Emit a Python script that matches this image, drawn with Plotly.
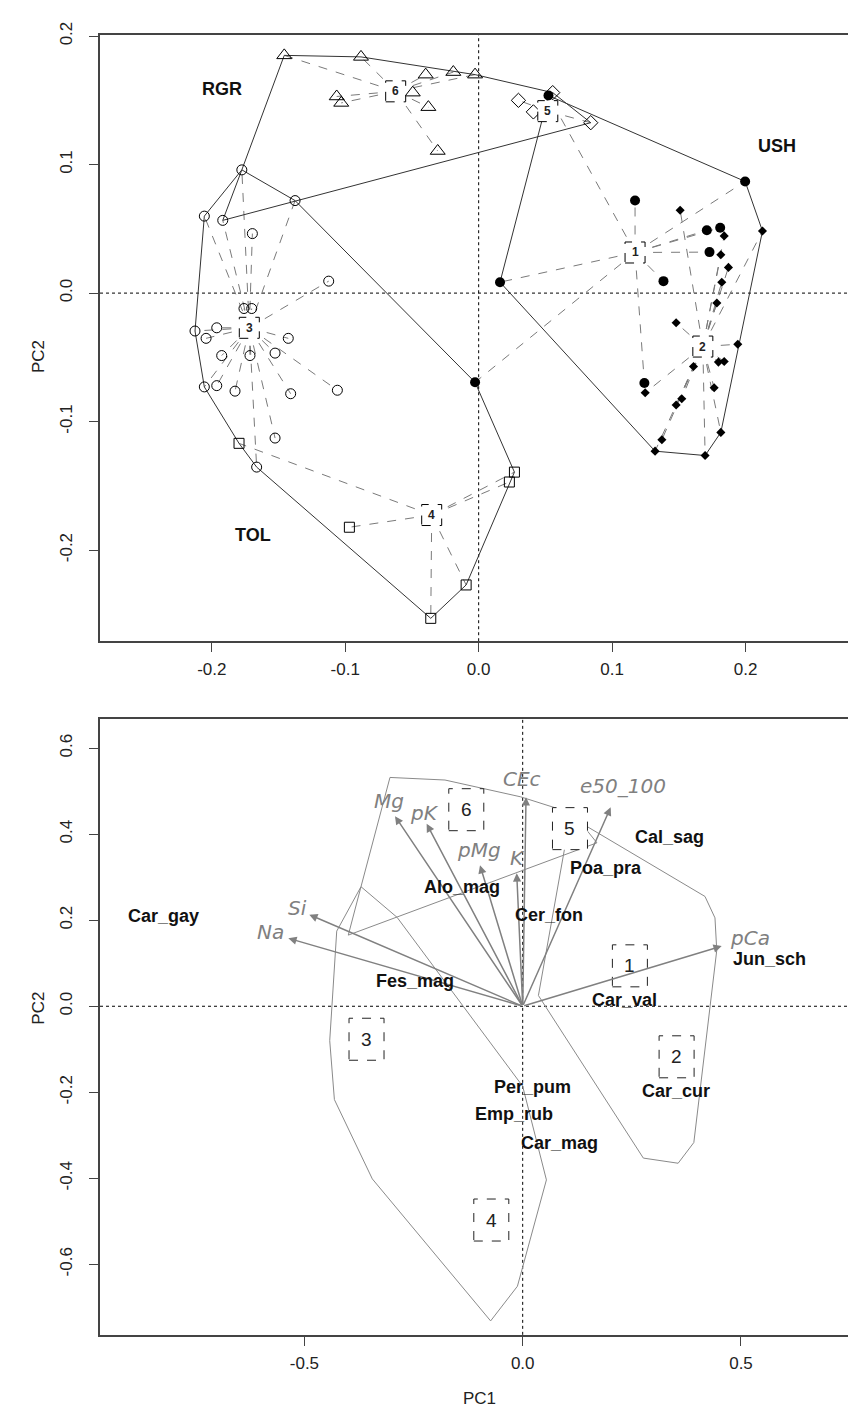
import plotly.graph_objects as go

# ---------------- TOP PANEL DATA (sample scores) ----------------
g1_x = [0.0523, 0.1172, 0.1997, 0.171, 0.181, 0.173, 0.1385, 0.016, -0.0027, 0.1242]
g1_y = [0.1537, 0.072, 0.0869, 0.0489, 0.0509, 0.0319, 0.0093, 0.0085, -0.0694, -0.0699]
g2_x = [0.151, 0.184, 0.2127, 0.1815, 0.1872, 0.1822, 0.1785, 0.148, 0.1942, 0.1797,
        0.184, 0.161, 0.1765, 0.1248, 0.1522, 0.148, 0.1373, 0.1322, 0.1697, 0.1815]
g2_y = [0.0645, 0.0445, 0.0483, 0.0298, 0.020, 0.0085, -0.0077, -0.0231, -0.0398, -0.0537,
        -0.0532, -0.0571, -0.0737, -0.0776, -0.0822, -0.0871, -0.1141, -0.123, -0.1264, -0.1084]
g3_x = [-0.1775, -0.1376, -0.2056, -0.1918, -0.1696, -0.1124, -0.1759, -0.1701, -0.2126, -0.1963, -0.2043,
        -0.1926, -0.1714, -0.1526, -0.1427, -0.2056, -0.1963, -0.1826, -0.1409, -0.1059, -0.1526, -0.1664]
g3_y = [0.0959, 0.072, 0.0599, 0.0566, 0.0463, 0.0093, -0.012, -0.012, -0.0295, -0.027, -0.0352,
        -0.0486, -0.0486, -0.0467, -0.0352, -0.073, -0.072, -0.0763, -0.0783, -0.0756, -0.1128, -0.1354]
g4_x = [-0.1796, -0.0969, 0.0268, 0.023, -0.0094, -0.0359]
g4_y = [-0.1169, -0.1822, -0.1393, -0.147, -0.2271, -0.2531]
g5_x = [0.0298, 0.041, 0.0555, 0.084]
g5_y = [0.150, 0.141, 0.156, 0.1326]
g6_x = [-0.1457, -0.0882, -0.0397, -0.019, -0.0027, -0.0494, -0.1064, -0.103, -0.0377, -0.0307]
g6_y = [0.185, 0.1838, 0.170, 0.172, 0.170, 0.156, 0.153, 0.148, 0.1447, 0.1106]

group_ids = ["1", "2", "3", "4", "5", "6"]
center_x = [0.1172, 0.168, -0.1719, -0.0352, 0.0518, -0.0622]
center_y = [0.0316, -0.0416, -0.027, -0.1727, 0.1416, 0.157]

hull_rgr_x = [-0.1457, -0.0882, -0.0027, 0.0555, 0.084, -0.1918, -0.1775, -0.1457]
hull_rgr_y = [0.185, 0.1838, 0.170, 0.156, 0.1326, 0.0566, 0.0959, 0.185]
hull_ush_x = [0.0523, 0.1997, 0.2127, 0.1815, 0.1697, 0.1322, 0.016, 0.0523]
hull_ush_y = [0.1537, 0.0869, 0.0483, -0.1084, -0.1264, -0.123, 0.0085, 0.1537]
hull_tol_x = [-0.1775, -0.1376, -0.0027, 0.0268, -0.0094, -0.0359, -0.1664, -0.1796, -0.2056, -0.2126, -0.2056, -0.1775]
hull_tol_y = [0.0959, 0.072, -0.0694, -0.1393, -0.2271, -0.2531, -0.1354, -0.1169, -0.073, -0.0295, 0.0599, 0.0959]

site_labels = ["RGR", "USH", "TOL"]
site_x = [-0.1926, 0.2239, -0.1693]
site_y = [0.1588, 0.1141, -0.1881]

top_xticks = [-0.2, -0.1, 0.0, 0.1, 0.2]
top_xticktext = ["-0.2", "-0.1", "0.0", "0.1", "0.2"]
top_yticks = [-0.2, -0.1, 0.0, 0.1, 0.2]
top_yticktext = ["-0.2", "-0.1", "0.0", "0.1", "0.2"]

# ---------------- BOTTOM PANEL DATA (biplot) ----------------
env_names = ["Mg", "pK", "pMg", "K", "CEc", "e50_100", "pCa", "Si", "Na"]
env_x = [-0.2925, -0.22, -0.0978, -0.0137, 0.0076, 0.2015, 0.4558, -0.4888, -0.5368]
env_y = [0.442, 0.4244, 0.328, 0.309, 0.486, 0.4627, 0.14, 0.213, 0.158]
env_lab_x = [-0.3055, -0.2238, -0.1001, -0.0124, -0.0023, 0.2305, 0.5206, -0.5163, -0.5788]
env_lab_y = [0.478, 0.449, 0.363, 0.344, 0.5295, 0.5127, 0.158, 0.2286, 0.1733]

spp_names = ["Car_gay", "Alo_mag", "Cal_sag", "Poa_pra", "Cer_fon", "Jun_sch",
             "Fes_mag", "Car_val", "Per_pum", "Emp_rub", "Car_mag", "Car_cur"]
spp_x = [-0.823, -0.1383, 0.3358, 0.190, 0.0602, 0.566, -0.2474, 0.2334, 0.0215, -0.0192, 0.085, 0.351]
spp_y = [0.209, 0.278, 0.3936, 0.322, 0.2115, 0.109, 0.0594, 0.0134, -0.1878, -0.25, -0.318, -0.198]

bcenter_x = [0.2455, 0.3525, -0.3577, -0.0719, 0.1083, -0.1292]
bcenter_y = [0.094, -0.1175, -0.0767, -0.497, 0.413, 0.457]

poly_rgr_x = [-0.304, -0.178, -0.005, 0.116, 0.17, -0.3995, -0.3704, -0.304]
poly_rgr_y = [0.532, 0.526, 0.487, 0.448, 0.38, 0.1654, 0.278, 0.532]
poly_ush_x = [0.109, 0.4175, 0.4404, 0.4445, 0.392, 0.356, 0.2763, 0.036, 0.109]
poly_ush_y = [0.441, 0.2553, 0.2055, 0.13, -0.3168, -0.365, -0.353, 0.025, 0.441]
poly_tol_x = [-0.3704, -0.2876, 0.0, 0.0543, -0.0121, -0.0735, -0.3445, -0.3754, -0.4313, -0.442, -0.426, -0.3704]
poly_tol_y = [0.278, 0.2066, -0.186, -0.4037, -0.651, -0.7316, -0.4014, -0.3355, -0.217, -0.08, 0.1747, 0.278]

bot_xticks = [-0.5, 0.0, 0.5]
bot_xticktext = ["-0.5", "0.0", "0.5"]
bot_yticks = [-0.6, -0.4, -0.2, 0.0, 0.2, 0.4, 0.6]
bot_yticktext = ["-0.6", "-0.4", "-0.2", "0.0", "0.2", "0.4", "0.6"]

# ---------------- FIGURE ----------------
W, H = 848, 1428
fig = go.Figure()

AX = "#444444"
TICKFONT = dict(family="Liberation Sans, Arial", size=17, color="#222222")
SPIDER = "#7a7a7a"

groups = [
    (g1_x, g1_y, dict(symbol="circle", size=10, color="black")),
    (g2_x, g2_y, dict(symbol="diamond", size=7, color="black")),
    (g3_x, g3_y, dict(symbol="circle-open", size=10, color="black", line=dict(width=1))),
    (g4_x, g4_y, dict(symbol="square-open", size=10, color="black", line=dict(width=1))),
    (g5_x, g5_y, dict(symbol="diamond-open", size=11, color="black", line=dict(width=1))),
    (g6_x, g6_y, dict(symbol="triangle-up-open", size=13, color="black", line=dict(width=1))),
]

# spiders
for i, (gx, gy, _) in enumerate(groups):
    sx, sy = [], []
    for px, py in zip(gx, gy):
        sx += [center_x[i], px, None]
        sy += [center_y[i], py, None]
    fig.add_trace(go.Scatter(x=sx, y=sy, mode="lines", xaxis="x", yaxis="y",
                             line=dict(color=SPIDER, width=1, dash="dash"),
                             hoverinfo="skip", showlegend=False))

# hulls
for hx, hy in [(hull_rgr_x, hull_rgr_y), (hull_ush_x, hull_ush_y), (hull_tol_x, hull_tol_y)]:
    fig.add_trace(go.Scatter(x=hx, y=hy, mode="lines", xaxis="x", yaxis="y",
                             line=dict(color="#333333", width=1), hoverinfo="skip", showlegend=False))

# points
for gx, gy, mk in groups:
    fig.add_trace(go.Scatter(x=gx, y=gy, mode="markers", xaxis="x", yaxis="y",
                             marker=mk, hoverinfo="skip", showlegend=False))

# bottom polygons
for px_, py_ in [(poly_rgr_x, poly_rgr_y), (poly_ush_x, poly_ush_y), (poly_tol_x, poly_tol_y)]:
    fig.add_trace(go.Scatter(x=px_, y=py_, mode="lines", xaxis="x2", yaxis="y2",
                             line=dict(color="#8a8a8a", width=1), hoverinfo="skip", showlegend=False))

shapes = []
annotations = []

# dotted zero lines
for xr, yr in [("x", "y"), ("x2", "y2")]:
    shapes.append(dict(type="line", xref=xr, yref=yr + " domain", x0=0, x1=0, y0=0, y1=1,
                       line=dict(color="black", width=1, dash="dot"), layer="below"))
    shapes.append(dict(type="line", xref=xr + " domain", yref=yr, x0=0, x1=1, y0=0, y1=0,
                       line=dict(color="black", width=1, dash="dot"), layer="below"))

# top centroid boxes
for gid, cx, cy in zip(group_ids, center_x, center_y):
    shapes.append(dict(type="rect", xref="x", yref="y", xsizemode="pixel", ysizemode="pixel",
                       xanchor=cx, yanchor=cy, x0=-10, x1=10, y0=-10.5, y1=10.5,
                       line=dict(color="black", width=1, dash="dash"), fillcolor="white", layer="above"))
    annotations.append(dict(x=cx, y=cy, xref="x", yref="y", text="<b>%s</b>" % gid, showarrow=False,
                            font=dict(family="Liberation Sans, Arial", size=12, color="#222")))

# site labels
for t, sx, sy in zip(site_labels, site_x, site_y):
    annotations.append(dict(x=sx, y=sy, xref="x", yref="y", text="<b>%s</b>" % t, showarrow=False,
                            font=dict(family="Liberation Sans, Arial", size=18, color="#111")))

# bottom boxes
for gid, cx, cy in zip(group_ids, bcenter_x, bcenter_y):
    shapes.append(dict(type="rect", xref="x2", yref="y2", xsizemode="pixel", ysizemode="pixel",
                       xanchor=cx, yanchor=cy, x0=-17.5, x1=17.5, y0=-21, y1=21,
                       line=dict(color="#222", width=1, dash="dash"), fillcolor="white", layer="above"))
    annotations.append(dict(x=cx, y=cy, xref="x2", yref="y2", text=gid, showarrow=False,
                            font=dict(family="Liberation Sans, Arial", size=19, color="#222")))

# arrows
for name, ex, ey, lx, ly in zip(env_names, env_x, env_y, env_lab_x, env_lab_y):
    annotations.append(dict(x=ex, y=ey, xref="x2", yref="y2", ax=0, ay=0, axref="x2", ayref="y2",
                            text="", showarrow=True, arrowhead=2, arrowsize=1.1, arrowwidth=1.5,
                            arrowcolor="#808080", standoff=0, startstandoff=0))
    annotations.append(dict(x=lx, y=ly, xref="x2", yref="y2", text=name, showarrow=False,
                            font=dict(family="DejaVu Sans", size=20, color="#808080", style="italic")))

# species labels
for name, sx, sy in zip(spp_names, spp_x, spp_y):
    annotations.append(dict(x=sx, y=sy, xref="x2", yref="y2", text="<b>%s</b>" % name, showarrow=False,
                            font=dict(family="Liberation Sans, Arial", size=18, color="#111")))

# axis titles
annotations.append(dict(x=27 / W, y=1 - 328 / H, xref="paper", yref="paper", text="PC2", textangle=-90,
                        showarrow=False, font=dict(family="Liberation Sans, Arial", size=17, color="#222")))
annotations.append(dict(x=27 / W, y=1 - 1023 / H, xref="paper", yref="paper", text="PC2", textangle=-90,
                        showarrow=False, font=dict(family="Liberation Sans, Arial", size=17, color="#222")))
annotations.append(dict(x=479 / W, y=1 - 1410 / H, xref="paper", yref="paper", text="PC1",
                        showarrow=False, font=dict(family="Liberation Sans, Arial", size=17, color="#222")))

xdom = [100 / W, 1.0]
common_x = dict(showgrid=False, zeroline=False, showline=True, linecolor=AX, linewidth=1.5, mirror=True,
                ticks="outside", ticklen=9, tickcolor=AX, tickwidth=1, tickfont=TICKFONT,
                ticklabelstandoff=3)
common_y = dict(showgrid=False, zeroline=False, showline=True, linecolor=AX, linewidth=1.5,
                ticks="outside", ticklen=9, tickcolor=AX, tickwidth=1, tickfont=TICKFONT,
                tickangle=-90, ticklabelstandoff=10)

fig.update_layout(
    width=W, height=H, margin=dict(l=0, r=0, t=0, b=0),
    plot_bgcolor="white", paper_bgcolor="white", showlegend=False,
    xaxis=dict(domain=xdom, range=[-0.2838, 0.2768], anchor="y",
               tickmode="array", tickvals=top_xticks, ticktext=top_xticktext, **common_x),
    yaxis=dict(domain=[1 - 634 / H, 1 - 22 / H], range=[-0.2709, 0.2010], anchor="x",
               tickmode="array", tickvals=top_yticks, ticktext=top_yticktext, **common_y),
    xaxis2=dict(domain=xdom, range=[-0.9682, 0.7451], anchor="y2",
                tickmode="array", tickvals=bot_xticks, ticktext=bot_xticktext, **common_x),
    yaxis2=dict(domain=[1 - 1334 / H, 1 - 712 / H], range=[-0.764, 0.669], anchor="x2",
                tickmode="array", tickvals=bot_yticks, ticktext=bot_yticktext, **common_y),
    shapes=shapes, annotations=annotations,
)

fig.write_html("out.html")
